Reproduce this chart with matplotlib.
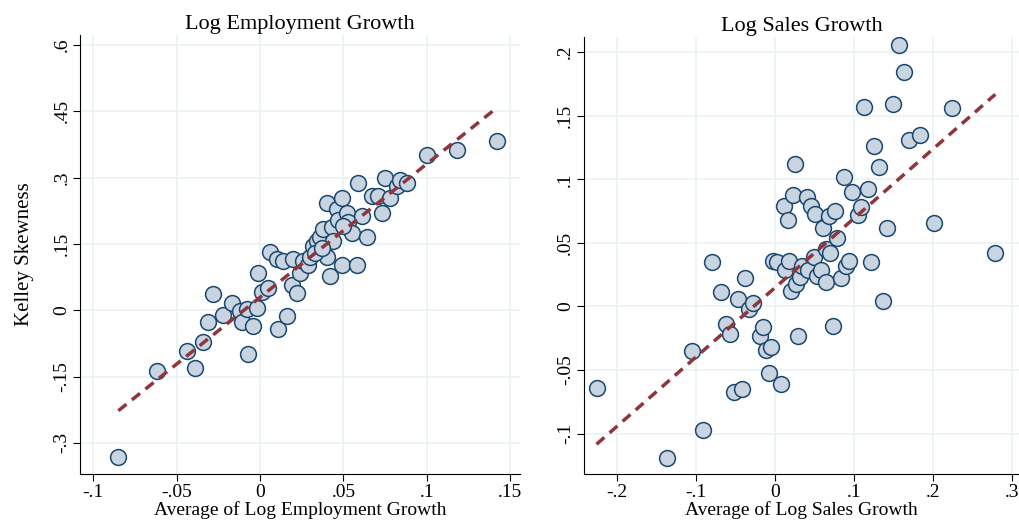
import numpy as np
import matplotlib
matplotlib.use("Agg")
import matplotlib.pyplot as plt

plt.rcParams["font.family"] = ["Liberation Serif", "DejaVu Serif"]

# Log employment growth panel
emp_x = [-0.085, -0.062, -0.044, -0.039, -0.034, -0.031, -0.028, -0.022, -0.017, -0.012,
         -0.011, -0.008, -0.007, -0.004, -0.002, -0.001, 0.001, 0.005, 0.006, 0.010,
         0.011, 0.014, 0.016, 0.019, 0.020, 0.022, 0.024, 0.026, 0.029, 0.030,
         0.032, 0.034, 0.036, 0.038, 0.040, 0.042, 0.043, 0.044, 0.040, 0.046,
         0.047, 0.049, 0.049, 0.052, 0.053, 0.055, 0.058, 0.059, 0.061, 0.064,
         0.067, 0.071, 0.073, 0.075, 0.078, 0.082, 0.084, 0.088, 0.100, 0.118,
         0.142, 0.033, 0.037, 0.050]
emp_y = [-0.333, -0.138, -0.092, -0.130, -0.071, -0.027, 0.036, -0.011, 0.016, -0.002,
         -0.027, 0.002, -0.098, -0.036, 0.004, 0.085, 0.042, 0.051, 0.132, 0.116,
         -0.042, 0.112, -0.013, 0.058, 0.116, 0.038, 0.085, 0.112, 0.103, 0.121,
         0.145, 0.156, 0.165, 0.183, 0.121, 0.078, 0.188, 0.156, 0.243, 0.228,
         0.205, 0.255, 0.103, 0.221, 0.199, 0.174, 0.103, 0.288, 0.214, 0.165,
         0.259, 0.259, 0.219, 0.299, 0.255, 0.281, 0.295, 0.288, 0.350, 0.362,
         0.382, 0.130, 0.140, 0.190]

# Log sales growth panel
sales_x = [-0.226, -0.137, -0.105, -0.091, -0.080, -0.068, -0.062, -0.057, -0.052, -0.047,
           -0.042, -0.038, -0.033, -0.028, -0.019, -0.015, -0.012, -0.005, -0.008, -0.002,
           0.003, 0.008, 0.011, 0.013, 0.016, 0.018, 0.020, 0.023, 0.025, 0.026,
           0.029, 0.032, 0.034, 0.040, 0.042, 0.046, 0.049, 0.051, 0.053, 0.058,
           0.061, 0.064, 0.065, 0.068, 0.070, 0.074, 0.076, 0.079, 0.083, 0.087,
           0.090, 0.094, 0.098, 0.105, 0.109, 0.113, 0.118, 0.121, 0.125, 0.132,
           0.137, 0.142, 0.150, 0.157, 0.163, 0.170, 0.184, 0.201, 0.224, 0.279]
sales_y = [-0.064, -0.119, -0.035, -0.097, 0.035, 0.011, -0.014, -0.022, -0.067, 0.006,
           -0.065, 0.022, -0.002, 0.003, -0.023, -0.016, -0.034, -0.032, -0.052, 0.036,
           0.035, -0.061, 0.079, 0.029, 0.068, 0.036, 0.012, 0.088, 0.112, 0.018,
           -0.023, 0.023, 0.032, 0.086, 0.029, 0.079, 0.039, 0.073, 0.024, 0.029,
           0.062, 0.045, 0.019, 0.071, 0.042, -0.015, 0.075, 0.054, 0.022, 0.102,
           0.032, 0.036, 0.090, 0.072, 0.078, 0.157, 0.092, 0.035, 0.126, 0.110,
           0.004, 0.062, 0.159, 0.206, 0.184, 0.131, 0.135, 0.066, 0.156, 0.042]

fig = plt.figure(figsize=(10.19, 5.27), dpi=100)
ax1 = fig.add_axes([0.0785, 0.1, 0.432, 0.834])
ax2 = fig.add_axes([0.573, 0.1, 0.427, 0.83])

panels = [
    (ax1, emp_x, emp_y, "Log Employment Growth", "Average of Log Employment Growth",
     (-0.108, 0.156), (-0.371, 0.623),
     [-0.1, -0.05, 0, 0.05, 0.1, 0.15], ["-.1", "-.05", "0", ".05", ".1", ".15"],
     [-0.3, -0.15, 0, 0.15, 0.3, 0.45, 0.6], ["-.3", "-.15", "0", ".15", ".3", ".45", ".6"]),
    (ax2, sales_x, sales_y, "Log Sales Growth", "Average of Log Sales Growth",
     (-0.242, 0.309), (-0.132, 0.212),
     [-0.2, -0.1, 0, 0.1, 0.2, 0.3], ["-.2", "-.1", "0", ".1", ".2", ".3"],
     [-0.1, -0.05, 0, 0.05, 0.1, 0.15, 0.2], ["-.1", "-.05", "0", ".05", ".1", ".15", ".2"]),
]

for ax, x, y, title, xlabel, xlim, ylim, xt, xtl, yt, ytl in panels:
    x = np.array(x)
    y = np.array(y)
    ax.grid(True, color="#eaf2f3", lw=1.2)
    ax.set_axisbelow(True)
    ax.scatter(x, y, s=130, facecolor="#c8d4df", edgecolor="#1a476f", lw=1.1, zorder=3)
    b, a = np.polyfit(x, y, 1)
    xs = np.array([x.min(), x.max()])
    ax.plot(xs, a + b * xs, ls=(0, (3, 2)), color="#90353b", lw=2.5, zorder=4)
    ax.set_xlim(xlim)
    ax.set_ylim(ylim)
    ax.set_xticks(xt, xtl)
    ax.set_yticks(yt, ytl)
    for lab in ax.get_yticklabels():
        lab.set_rotation(90)
        lab.set_va("center")
    ax.tick_params(labelsize=14, length=5, pad=2)
    ax.set_title(title, fontsize=16, pad=4)
    ax.set_xlabel(xlabel, fontsize=14, labelpad=0)
    for s in ["top", "right"]:
        ax.spines[s].set_visible(False)

ax1.set_ylabel("Kelley Skewness", fontsize=15, labelpad=14)

fig.savefig("out.png", dpi=100)
